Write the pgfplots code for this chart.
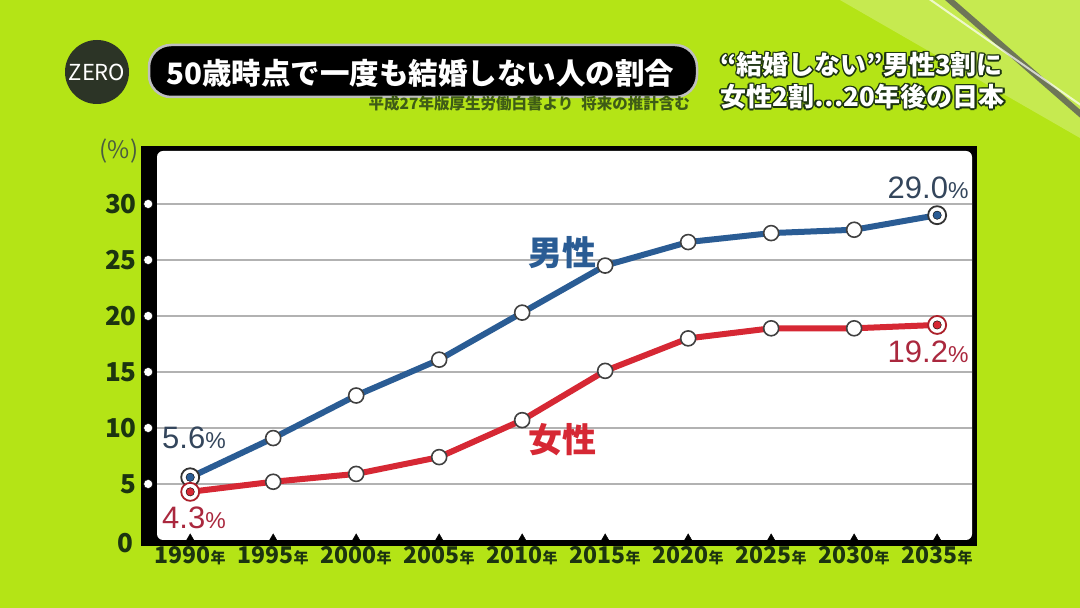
\documentclass[border=0pt]{standalone}
\usepackage{pgfplots}
\pgfplotsset{compat=1.18}
\usepackage{fontspec}
\setmainfont{Noto Sans CJK JP}
\newfontfamily\numfont{Liberation Sans}

\definecolor{bg}{RGB}{180,228,22}
\definecolor{darkgreen}{RGB}{28,52,16}
\definecolor{subgreen}{RGB}{62,92,22}
\definecolor{logo}{RGB}{44,52,38}
\definecolor{maleblue}{RGB}{42,92,148}
\definecolor{femred}{RGB}{214,40,52}
\definecolor{malelbl}{RGB}{52,70,92}
\definecolor{femlbl}{RGB}{170,40,62}

% white headline text with a dark rim
\newcommand{\outlined}[3]{%
  \foreach \dx/\dy in {1.6/0,-1.6/0,0/1.6,0/-1.6,1.1/1.1,-1.1/1.1,1.1/-1.1,-1.1/-1.1}{
    \node[anchor=west, text=darkgreen, inner sep=0pt, font=\bfseries\fontsize{26}{26}\selectfont] at (#1+\dx,#2+\dy) {#3};
  }
  \node[anchor=west, text=white, inner sep=0pt, font=\bfseries\fontsize{26}{26}\selectfont] at (#1,#2) {#3};
}

\pgfplotstableread{
year male female
1990 5.6 4.3
1995 9.1 5.2
2000 12.9 5.9
2005 16.1 7.4
2010 20.3 10.7
2015 24.5 15.1
2020 26.6 18.0
2025 27.4 18.9
2030 27.7 18.9
2035 29.0 19.2
}\datatable

\begin{document}
\begin{tikzpicture}[x=1pt,y=1pt]
\fill[bg] (0,0) rectangle (1080,608);
\useasboundingbox (0,0) rectangle (1080,608);
\clip (0,0) rectangle (1080,608);

% decorative swoosh top right
\fill[white, opacity=0.25] (840,608) -- (1080,608) -- (1080,470) -- cycle;
\draw[line width=6pt, black!65, opacity=0.8] (945,612) -- (1085,490);
\draw[line width=2pt, white, opacity=0.7] (925,612) -- (1085,500);

% logo
\fill[logo] (97,536) circle (32);
\node[text=white, font=\fontsize{22}{22}\selectfont] at (97,536) {ZERO};

% title box
\node[fill=black, draw=gray!50, line width=2.5pt, rounded corners=22pt,
      minimum width=548pt, minimum height=52pt, inner sep=0pt] at (423,537) {};
\node[anchor=west, text=white, inner sep=0pt, font=\bfseries\fontsize{29.5}{30}\selectfont] at (166,535) {50歳時点で一度も結婚しない人の割合};
\node[anchor=east, text=subgreen, inner sep=0pt, font=\bfseries\fontsize{15.5}{16}\selectfont] at (690,504) {平成27年版厚生労働白書より\hspace{8pt}将来の推計含む};

% right headline
\outlined{720}{543}{“結婚しない”男性3割に}
\outlined{720}{511}{女性2割…20年後の日本}

% chart panel
\fill[black] (141,62) rectangle (977,462);
\fill[white, rounded corners=6pt] (157,68) rectangle (972,457);
\node[text=darkgreen!80, font=\fontsize{24}{24}\selectfont, inner sep=0pt] at (119,457) {(\%)};

\begin{axis}[
  at={(157pt,68pt)}, anchor=south west,
  width=815pt, height=389pt, scale only axis,
  xmin=1988.0, xmax=2037.1, ymin=0, ymax=34.73,
  clip=false,
  axis line style={draw=none},
  major tick length=0pt,
  xtick={1990,1995,2000,2005,2010,2015,2020,2025,2030,2035},
  xticklabels={1990{\fontsize{15}{15}\selectfont 年},1995{\fontsize{15}{15}\selectfont 年},2000{\fontsize{15}{15}\selectfont 年},2005{\fontsize{15}{15}\selectfont 年},2010{\fontsize{15}{15}\selectfont 年},2015{\fontsize{15}{15}\selectfont 年},2020{\fontsize{15}{15}\selectfont 年},2025{\fontsize{15}{15}\selectfont 年},2030{\fontsize{15}{15}\selectfont 年},2035{\fontsize{15}{15}\selectfont 年}},
  xticklabel style={anchor=north, inner sep=0pt, yshift=-6pt, text=darkgreen, font=\bfseries\fontsize{23}{23}\selectfont},
  ytick={5,10,15,20,25,30},
  yticklabels={5,10,15,20,25,30},
  yticklabel style={anchor=east, inner sep=0pt, xshift=-20pt, text=darkgreen, font=\bfseries\fontsize{26}{26}\selectfont},
  extra y ticks={0},
  extra y tick labels={0},
  extra y tick style={grid=none, yticklabel style={xshift=-3pt, yshift=-3pt}},
  ymajorgrids,
  grid style={black!30, line width=1.2pt},
]
% white dots on the left border
\addplot[only marks, mark=*, mark size=4.5pt, mark options={fill=white, draw=none}]
  coordinates {(1987.47,5) (1987.47,10) (1987.47,15) (1987.47,20) (1987.47,25) (1987.47,30)};
% triangles on the bottom border
\addplot[only marks, mark=triangle*, mark size=4.5pt, black]
  coordinates {(1990,0.15) (1995,0.15) (2000,0.15) (2005,0.15) (2010,0.15) (2015,0.15) (2020,0.15) (2025,0.15) (2030,0.15) (2035,0.15)};

\addplot[maleblue, line width=6pt, mark=*, mark size=7.5pt,
  mark options={fill=white, draw=black!75, line width=1.6pt}] table[x=year, y=male] {\datatable};
\addplot[femred, line width=6pt, mark=*, mark size=7.5pt,
  mark options={fill=white, draw=black!75, line width=1.6pt}] table[x=year, y=female] {\datatable};

% highlighted end points
\addplot[only marks, mark=*, mark size=9pt, mark options={fill=white, draw=black!80, line width=1.8pt}]
  coordinates {(1990,5.6) (2035,29.0)};
\addplot[only marks, mark=*, mark size=4.2pt, mark options={fill=maleblue, draw=none}]
  coordinates {(1990,5.6) (2035,29.0)};
\addplot[only marks, mark=*, mark size=9pt, mark options={fill=white, draw=femred!80!black, line width=1.8pt}]
  coordinates {(1990,4.3) (2035,19.2)};
\addplot[only marks, mark=*, mark size=4.2pt, mark options={fill=femred, draw=none}]
  coordinates {(1990,4.3) (2035,19.2)};

% value labels
\node[anchor=west, text=malelbl, inner sep=0pt] at (axis cs:1988.3,9.1)
  {\numfont\fontsize{31}{31}\selectfont 5.6{\fontsize{23}{23}\selectfont\%}};
\node[anchor=west, text=femlbl, inner sep=0pt] at (axis cs:1988.3,1.95)
  {\numfont\fontsize{31}{31}\selectfont 4.3{\fontsize{23}{23}\selectfont\%}};
\node[anchor=east, text=malelbl, inner sep=0pt] at (axis cs:2036.9,31.4)
  {\numfont\fontsize{31}{31}\selectfont 29.0{\fontsize{23}{23}\selectfont\%}};
\node[anchor=east, text=femlbl, inner sep=0pt] at (axis cs:2036.9,16.8)
  {\numfont\fontsize{31}{31}\selectfont 19.2{\fontsize{23}{23}\selectfont\%}};

% series labels
\node[text=maleblue, font=\bfseries\fontsize{34}{34}\selectfont] at (axis cs:2012.4,25.7) {男性};
\node[text=femred, font=\bfseries\fontsize{34}{34}\selectfont] at (axis cs:2012.4,9.0) {女性};
\end{axis}
\end{tikzpicture}
\end{document}
